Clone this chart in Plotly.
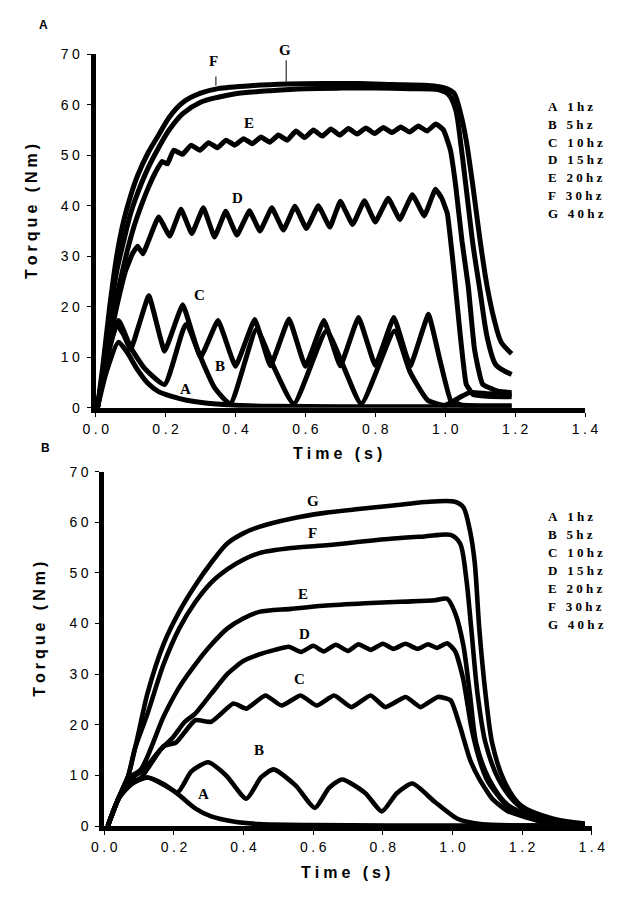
import plotly.graph_objects as go

# The page body keeps an 8px margin, so the figure is drawn 16px smaller and
# every reference pixel position is shifted by OFF.
PAGE_W, PAGE_H = 629, 901
OFF = 8
W, H = PAGE_W - 2 * OFF, PAGE_H - 2 * OFF

# ---------------- Panel A (top) data: time (s), torque (Nm) ----------------
A_A_t = [0.005, 0.03, 0.065, 0.09, 0.12, 0.15, 0.18, 0.22, 0.26, 0.32, 0.40, 0.50, 0.70, 1.0, 1.19]
A_A_y = [0, 7, 13, 11, 7.5, 4.8, 3.2, 2.2, 1.5, 0.9, 0.5, 0.3, 0.2, 0.2, 0.2]

A_B_t = [0.005, 0.03, 0.065, 0.10, 0.14, 0.197, 0.258, 0.30, 0.34, 0.385, 0.46, 0.51, 0.567,
         0.66, 0.71, 0.76, 0.855, 0.90, 0.95, 1.0, 1.04, 1.07, 1.12, 1.19]
A_B_y = [0, 9, 17.3, 12, 7.8, 4.6, 16.5, 10, 4, 0.8, 15.5, 8, 0.8,
         15.2, 8, 0.8, 15.2, 7, 1.5, 0.5, 2, 3, 2.8, 2.6]

A_C_t = [0.005, 0.03, 0.06, 0.08, 0.10, 0.152, 0.197, 0.249, 0.30, 0.35, 0.40, 0.455, 0.50,
         0.553, 0.60, 0.653, 0.70, 0.752, 0.80, 0.853, 0.90, 0.952, 0.984, 1.016, 1.05, 1.10, 1.19]
A_C_y = [0, 10, 16.5, 14.5, 11.5, 22.2, 11.2, 20.4, 10, 17.3, 8.2, 17.5, 8.3,
         17.6, 8.2, 17.3, 8.3, 17.9, 8.4, 17.9, 8.3, 18.5, 9.7, 1.4, 0.5, 0.4, 0.4]

A_D_t = [0.005, 0.03, 0.06, 0.085, 0.105, 0.12, 0.135, 0.18, 0.212, 0.244, 0.275, 0.308, 0.34,
         0.372, 0.404, 0.44, 0.47, 0.504, 0.537, 0.57, 0.603, 0.637, 0.67, 0.70, 0.735, 0.769,
         0.80, 0.837, 0.87, 0.906, 0.94, 0.972, 0.99, 1.006, 1.025, 1.043, 1.06, 1.08, 1.12, 1.19]
A_D_y = [0, 10, 20, 27, 30.5, 32, 30.5, 37.8, 34, 39.3, 34.5, 39.6, 33.8,
         38.9, 34.2, 39, 35, 39.6, 35.2, 39.9, 35.5, 40, 35.8, 40.9, 36.3, 41,
         36.8, 41.5, 37.3, 42.2, 38, 43.3, 41.5, 38.5, 27, 14.4, 4.7, 2.6, 2.3, 2.2]

A_E_t = [0.005, 0.03, 0.06, 0.09, 0.11, 0.13, 0.15, 0.17, 0.19, 0.205,
         0.223, 0.248, 0.273, 0.298, 0.323, 0.348, 0.373, 0.398, 0.423, 0.448,
         0.473, 0.498, 0.523, 0.548, 0.573, 0.598, 0.623, 0.648, 0.673, 0.698,
         0.723, 0.748, 0.773, 0.798, 0.823, 0.848, 0.873, 0.898, 0.923, 0.948, 0.973,
         0.995, 1.015, 1.03, 1.048, 1.066, 1.084, 1.107, 1.15, 1.19]
A_E_y = [0, 11, 22, 31, 36, 40, 43.5, 46.5, 48.8, 48.3,
         51, 50.2, 52, 51, 52.5, 51.5, 53, 52, 53.3, 52.3,
         53.6, 52.6, 54, 53, 54.8, 53.5, 55, 53.8, 55.2, 54,
         55.3, 54.2, 55.4, 54.3, 55.5, 54.5, 55.6, 54.6, 55.8, 54.8, 56.2,
         55, 51, 44, 33, 24, 11.5, 4.7, 3.3, 3.0]

A_F_t = [0.005, 0.02, 0.04, 0.06, 0.08, 0.10, 0.12, 0.15, 0.18, 0.21, 0.25, 0.30, 0.35, 0.40,
         0.50, 0.60, 0.70, 0.80, 0.90, 0.98, 1.01, 1.03, 1.045, 1.06, 1.08, 1.10, 1.12, 1.145, 1.19]
A_F_y = [0, 7, 18, 27, 33, 38.5, 42.5, 47.5, 51.5, 55, 58.3, 60.5, 61.5, 62.2,
         62.8, 63.2, 63.3, 63.3, 63.2, 63.0, 62, 59, 52, 43.5, 32, 23, 14, 8.5, 6.6]

A_G_t = [0.005, 0.02, 0.04, 0.06, 0.08, 0.10, 0.12, 0.15, 0.18, 0.21, 0.25, 0.30, 0.35, 0.45,
         0.55, 0.65, 0.75, 0.85, 0.95, 1.00, 1.025, 1.045, 1.06, 1.08, 1.10, 1.12, 1.14, 1.16, 1.19]
A_G_y = [0, 8, 20, 30, 37, 42, 46, 50.5, 54, 57.5, 60.5, 62.3, 63.2, 63.8,
         64.1, 64.2, 64.2, 64.0, 63.8, 63.3, 62.3, 58, 53, 43.5, 33, 24, 17.5, 13, 10.7]

# ---------------- Panel B (bottom) data ----------------
B_A_t = [0.01, 0.041, 0.078, 0.124, 0.17, 0.215, 0.261, 0.307, 0.371, 0.445, 0.6, 1.0, 1.38]
B_A_y = [0, 5.4, 8.3, 9.6, 8.3, 6.1, 3.5, 1.9, 0.9, 0.4, 0.2, 0.1, 0.1]

B_B_t = [0.01, 0.041, 0.078, 0.124, 0.17, 0.211, 0.25, 0.298, 0.35, 0.408, 0.45, 0.486, 0.55,
         0.605, 0.645, 0.683, 0.75, 0.797, 0.84, 0.885, 0.949, 1.013, 1.08, 1.38]
B_B_y = [0, 5.4, 8.3, 9.6, 8.2, 6.7, 10.8, 12.6, 10, 5.4, 9.6, 11.2, 8,
         3.6, 7.5, 9.2, 6.5, 2.9, 6.5, 8.4, 4.8, 1.5, 0.4, 0.1]

B_C_t = [0.01, 0.041, 0.069, 0.105, 0.17, 0.206, 0.261, 0.307, 0.371, 0.408, 0.463, 0.509, 0.564,
         0.61, 0.66, 0.71, 0.765, 0.807, 0.866, 0.908, 0.958, 0.995, 1.022, 1.05, 1.077, 1.114,
         1.16, 1.24, 1.32, 1.38]
B_C_y = [0, 5.5, 8.5, 9.5, 15.8, 16.5, 20.9, 20.6, 24.2, 23.2, 25.8, 23.8, 25.8,
         23.8, 25.8, 23.5, 25.8, 23.5, 25.5, 23.5, 25.5, 24.8, 19.6, 13.2, 9.3, 5.4,
         2.9, 1.2, 0.5, 0.3]

B_D_t = [0.01, 0.041, 0.069, 0.10, 0.13, 0.16, 0.197, 0.23, 0.261, 0.307, 0.353, 0.399, 0.445,
         0.49, 0.53, 0.565, 0.60, 0.63, 0.665, 0.70, 0.73, 0.765, 0.80, 0.83, 0.865, 0.90, 0.93,
         0.955, 0.985, 1.008, 1.031, 1.054, 1.077, 1.10, 1.123, 1.17, 1.25, 1.32, 1.38]
B_D_y = [0, 5.5, 9, 10.5, 12.5, 15, 17.5, 20.5, 22.2, 26.1, 30, 32.6, 33.9,
         34.8, 35.4, 34.4, 35.6, 34.5, 35.8, 34.6, 35.9, 34.8, 36, 35, 36, 35, 35.9,
         35.2, 36.1, 34.5, 29, 19.6, 13.2, 9, 6.7, 3, 1, 0.4, 0.2]

B_E_t = [0.01, 0.041, 0.069, 0.105, 0.17, 0.215, 0.261, 0.307, 0.353, 0.399, 0.445, 0.536, 0.628,
         0.75, 0.85, 0.95, 0.985, 1.008, 1.031, 1.05, 1.068, 1.105, 1.16, 1.24, 1.32, 1.38]
B_E_y = [0, 5.5, 9.5, 11.2, 21.6, 27.4, 31.9, 35.8, 39, 41, 42.3, 42.9, 43.5,
         44, 44.3, 44.6, 44.9, 42, 35.8, 26.1, 16.4, 9.3, 4.1, 1.7, 0.6, 0.3]

B_F_t = [0.01, 0.041, 0.069, 0.087, 0.124, 0.17, 0.215, 0.261, 0.307, 0.353, 0.399, 0.445, 0.536,
         0.646, 0.74, 0.83, 0.92, 0.995, 1.022, 1.04, 1.054, 1.072, 1.095, 1.132, 1.178, 1.24,
         1.32, 1.38]
B_F_y = [0, 5.5, 10, 15.1, 22.2, 31.9, 39, 44.2, 48.1, 50.7, 52.6, 53.9, 54.9,
         55.5, 56.2, 56.8, 57.2, 57.5, 55.8, 48.7, 39, 26.1, 16.4, 9.3, 4.8, 1.8,
         0.6, 0.3]

B_G_t = [0.01, 0.041, 0.069, 0.096, 0.124, 0.17, 0.215, 0.261, 0.307, 0.353, 0.399, 0.445, 0.536,
         0.628, 0.73, 0.83, 0.921, 1.004, 1.031, 1.05, 1.064, 1.077, 1.095, 1.114, 1.15, 1.196,
         1.287, 1.38]
B_G_y = [0, 5.5, 10, 17.7, 26.2, 35.9, 42.3, 47.5, 52, 55.8, 57.8, 59.1, 60.7,
         61.8, 62.6, 63.3, 64.0, 64.1, 63, 58.4, 52, 39, 26.1, 16.4, 8.7, 4.1,
         1.5, 0.5]

LEGEND_LINES = ["A 1hz", "B 5hz", "C 10hz", "D 15hz", "E 20hz", "F 30hz", "G 40hz"]
X_TICKS = [0.0, 0.2, 0.4, 0.6, 0.8, 1.0, 1.2, 1.4]
X_TICK_TEXT = ["0.0", "0.2", "0.4", "0.6", "0.8", "1.0", "1.2", "1.4"]
Y_TICKS = [0, 10, 20, 30, 40, 50, 60, 70]
Y_TICK_TEXT = ["0", "10", "20", "30", "40", "50", "60", "70"]

# curve label positions (time, torque)
A_LABELS = {"F": (0.337, 68.6), "E": (0.438, 56.4), "D": (0.405, 41.6),
            "C": (0.296, 22.4), "B": (0.356, 8.2), "A": (0.258, 3.7)}
B_LABELS = {"G": (0.60, 64.2), "F": (0.597, 57.8), "E": (0.572, 45.8), "D": (0.575, 38.0),
            "C": (0.561, 29.1), "B": (0.443, 15.1), "A": (0.286, 6.4)}

SP = "\u2005"


def spaced(s):
    return SP.join(list(s))


panelA = [(A_A_t, A_A_y, 0.6), (A_B_t, A_B_y, 0.5), (A_C_t, A_C_y, 0.3), (A_D_t, A_D_y, 0.3),
          (A_E_t, A_E_y, 0.4), (A_F_t, A_F_y, 0.8), (A_G_t, A_G_y, 0.8)]
panelB = [(B_A_t, B_A_y, 0.8), (B_B_t, B_B_y, 0.6), (B_C_t, B_C_y, 0.5), (B_D_t, B_D_y, 0.5),
          (B_E_t, B_E_y, 0.8), (B_F_t, B_F_y, 0.8), (B_G_t, B_G_y, 0.8)]

for t, y, _ in panelA + panelB:
    assert len(t) == len(y), (len(t), len(y))

fig = go.Figure()
for t, y, sm in panelA:
    fig.add_trace(go.Scatter(x=t, y=y, mode="lines", xaxis="x", yaxis="y",
                             line=dict(color="black", width=5, shape="spline", smoothing=sm),
                             showlegend=False, hoverinfo="skip"))
for t, y, sm in panelB:
    fig.add_trace(go.Scatter(x=t, y=y, mode="lines", xaxis="x2", yaxis="y2",
                             line=dict(color="black", width=4.6, shape="spline", smoothing=sm),
                             showlegend=False, hoverinfo="skip"))


def px(x):
    return (x - OFF) / W


def py(y):
    return 1 - (y - OFF) / H


tickfont = dict(family="Liberation Sans, Arial, sans-serif", size=14, color="black")
common_x = dict(range=[0, 1.4], showline=True, linewidth=5, linecolor="black", ticks="outside",
                ticklen=4, tickwidth=1, tickcolor="black", showgrid=False, zeroline=False,
                tickvals=X_TICKS, ticktext=[spaced(s) for s in X_TICK_TEXT], tickfont=tickfont)
common_y = dict(range=[0, 70], showline=True, linewidth=5, linecolor="black", ticks="outside",
                ticklen=4, tickwidth=1, tickcolor="black", showgrid=False, zeroline=False,
                tickvals=Y_TICKS, ticktext=[spaced(s) for s in Y_TICK_TEXT], tickfont=tickfont,
                ticklabelstandoff=4)

fig.update_layout(
    width=W, height=H, margin=dict(l=0, r=0, t=0, b=0),
    plot_bgcolor="white", paper_bgcolor="white",
    xaxis=dict(domain=[px(86), px(597)], anchor="y", **common_x),
    yaxis=dict(domain=[py(407), py(47)], anchor="x", **common_y),
    xaxis2=dict(domain=[px(95), px(604)], anchor="y2", **common_x),
    yaxis2=dict(domain=[py(833), py(472)], anchor="x2", **common_y),
)

ann = []
titlefont = dict(family="Liberation Sans, Arial, sans-serif", size=16, color="black")
serif = dict(family="Liberation Serif, Times New Roman, serif", size=13, color="black")
labfont = dict(family="Liberation Serif, Times New Roman, serif", size=15, color="black")

# axis titles
for (xc, yc) in [(339, 454), (347, 880)]:
    ann.append(dict(x=px(xc), y=py(yc), xref="paper", yref="paper", showarrow=False,
                    text="<b>" + spaced("Time (s)") + "</b>", font=titlefont,
                    xanchor="center", yanchor="middle"))
for (xc, yc) in [(19, 207), (28, 633)]:
    ann.append(dict(x=px(xc), y=py(yc), xref="paper", yref="paper", showarrow=False,
                    text="<b>" + spaced("Torque (Nm)") + "</b>", font=titlefont, textangle=-90,
                    xanchor="center", yanchor="middle"))

# panel letters
for (lab, xc, yc) in [("A", 32, 17), ("B", 34, 448)]:
    ann.append(dict(x=px(xc), y=py(yc), xref="paper", yref="paper", showarrow=False,
                    text="<b>" + lab + "</b>",
                    font=dict(family="Liberation Sans, Arial, sans-serif", size=12, color="black"),
                    xanchor="center", yanchor="middle"))

# legends (text lists)
for y0 in [100, 518]:
    for i, s in enumerate(LEGEND_LINES):
        ann.append(dict(x=px(556), y=py(y0 + i * 18.2), xref="paper", yref="paper",
                        showarrow=False, text="<b>" + spaced(s) + "</b>", font=serif,
                        xanchor="left", yanchor="middle"))

# curve labels
for k, (tx, ty) in A_LABELS.items():
    ann.append(dict(x=tx, y=ty, xref="x", yref="y", showarrow=False, text="<b>" + k + "</b>",
                    font=labfont, xanchor="center", yanchor="middle"))
# "G" of panel A sits above the plotting area, so it is placed on the page
ann.append(dict(x=px(284), y=py(43), xref="paper", yref="paper", showarrow=False,
                text="<b>G</b>", font=labfont, xanchor="center", yanchor="middle"))
for k, (tx, ty) in B_LABELS.items():
    ann.append(dict(x=tx, y=ty, xref="x2", yref="y2", showarrow=False, text="<b>" + k + "</b>",
                    font=labfont, xanchor="center", yanchor="middle"))

fig.update_layout(annotations=ann)

# leader lines for F and G in panel A
fig.add_shape(type="line", xref="x", yref="y", x0=0.344, x1=0.344, y0=65.6, y1=63.8,
              line=dict(color="black", width=1))
fig.add_shape(type="line", xref="x", yref="y", x0=0.545, x1=0.545, y0=68.8, y1=64.6,
              line=dict(color="black", width=1))

fig.write_html("out.html", config={"displayModeBar": False})
